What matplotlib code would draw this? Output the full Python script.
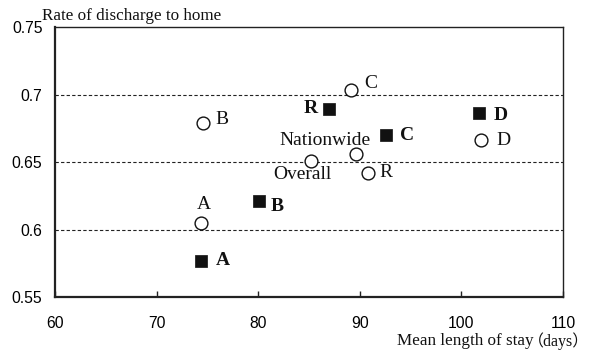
import matplotlib.pyplot as plt

# open circles: hospital groups (before), squares: after
circle_names = ["A", "B", "C", "D", "R", "Nationwide", "Overall"]
circle_x = [74.4, 74.6, 89.1, 101.9, 90.8, 89.6, 85.2]
circle_y = [0.605, 0.679, 0.703, 0.666, 0.642, 0.656, 0.651]

square_names = ["A", "B", "C", "D", "R"]
square_x = [74.4, 80.1, 92.6, 101.7, 87.0]
square_y = [0.577, 0.621, 0.670, 0.686, 0.689]

xticks = [60, 70, 80, 90, 100, 110]
yticks = [0.55, 0.6, 0.65, 0.7, 0.75]
yticklabels = ["0.55", "0.6", "0.65", "0.7", "0.75"]

serif = ["Liberation Serif", "Noto Sans CJK JP"]

fig = plt.figure(figsize=(5.9, 3.51), dpi=100)
ax = fig.add_axes([55 / 590, 1 - 297 / 351, 508 / 590, 270 / 351])

for yv in [0.6, 0.65, 0.7]:
    ax.axhline(yv, color="#222222", lw=0.8, ls=(0, (3, 2)), zorder=1)

ax.scatter(circle_x, circle_y, s=85, marker="o", facecolor="white",
           edgecolor="#111111", linewidths=1.0, zorder=3)
ax.scatter(square_x, square_y, s=80, marker="s", facecolor="#111111",
           edgecolor="#111111", linewidths=0.5, zorder=3)

# label offsets in points
circle_off = {"A": (2, 13, "center"), "B": (8.5, 2.5, "left"), "C": (10, 5, "left"),
              "D": (11.5, 0, "left"), "R": (8, 0, "left"),
              "Nationwide": (-22, 9.5, "center"), "Overall": (-6, -10, "center")}
for n, x, y in zip(circle_names, circle_x, circle_y):
    dx, dy, ha = circle_off[n]
    ax.annotate(n, (x, y), xytext=(dx, dy), textcoords="offset points",
                ha=ha, va="center", fontsize=14, family=serif, color="#111111")

square_off = {"A": (10.5, 0, "left"), "B": (8, -4, "left"), "C": (10, 0, "left"),
              "D": (10.5, -1.5, "left"), "R": (-8.5, 0.5, "right")}
for n, x, y in zip(square_names, square_x, square_y):
    dx, dy, ha = square_off[n]
    ax.annotate(n, (x, y), xytext=(dx, dy), textcoords="offset points",
                ha=ha, va="center", fontsize=14, family=serif,
                fontweight="bold", color="#111111")

ax.set_xlim(60, 110)
ax.set_ylim(0.55, 0.75)
ax.set_xticks(xticks)
ax.set_yticks(yticks)
ax.set_yticklabels(yticklabels)
ax.tick_params(axis="x", direction="in", length=4, width=1, pad=14,
               labelsize=11.3, color="#222222")
ax.tick_params(axis="y", length=0, pad=9, labelsize=11.3)
for lab in ax.get_xticklabels() + ax.get_yticklabels():
    lab.set_family("Liberation Sans")

for side in ["left", "bottom"]:
    ax.spines[side].set_linewidth(1.6)
    ax.spines[side].set_color("#222222")
for side in ["top", "right"]:
    ax.spines[side].set_linewidth(1.0)
    ax.spines[side].set_color("#222222")

fig.text(42 / 590, 1 - 16 / 351, "Rate of discharge to home", fontsize=12.3,
         family=serif, ha="left", va="center", color="#111111")
fig.text(397 / 590, 1 - 341 / 351, "Mean length of stay", fontsize=12.3,
         family=serif, ha="left", va="center", color="#111111")
fig.text(589 / 590, 1 - 341 / 351, "（days）", fontsize=11.5,
         family=serif, ha="right", va="center", color="#111111")

fig.savefig("out.png", dpi=100)
